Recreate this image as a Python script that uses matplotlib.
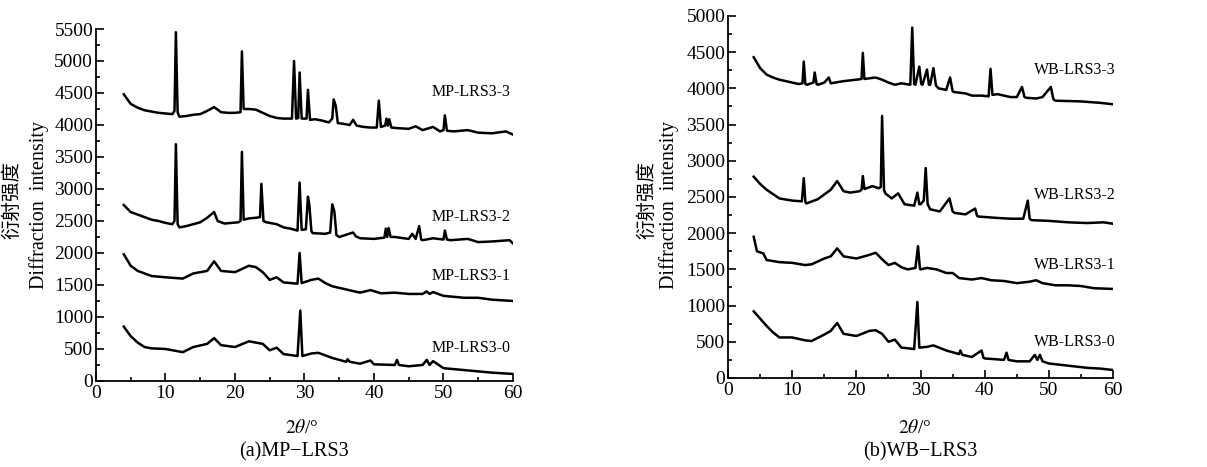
import numpy as np
import matplotlib
matplotlib.use("Agg")
import matplotlib.pyplot as plt
from matplotlib.ticker import MultipleLocator

plt.rcParams['font.family'] = ['Liberation Serif', 'Noto Sans CJK SC']
plt.rcParams['mathtext.fontset'] = 'stix'

# (2theta, intensity), panel (a)
mp3 = [(4, 4480), (5, 4330), (6, 4270), (7, 4230), (8, 4210), (9, 4190), (10, 4180), (11, 4170),
       (11.3, 4220), (11.5, 5450), (11.75, 4200), (12, 4130), (13, 4140), (14, 4160), (15, 4170),
       (16, 4220), (17, 4280), (18, 4200), (19, 4190), (20, 4190), (20.8, 4200), (21, 5150),
       (21.25, 4250), (22, 4250), (23, 4240), (24, 4190), (25, 4140), (26, 4110), (27, 4100),
       (28.2, 4100), (28.5, 5000), (28.8, 4100), (29.1, 4110), (29.3, 4820), (29.6, 4100),
       (30.3, 4100), (30.5, 4550), (30.8, 4080), (31.5, 4090), (32.5, 4070), (33.5, 4040),
       (34, 4100), (34.2, 4400), (34.5, 4300), (34.8, 4030), (35.5, 4020), (36.5, 4000),
       (37, 4080), (37.5, 3990), (38.5, 3970), (39.5, 3960), (40.4, 3960), (40.7, 4380),
       (41, 3970), (41.6, 3990), (41.8, 4100), (42, 3990), (42.2, 4090), (42.5, 3960),
       (43.5, 3950), (45, 3940), (46, 3980), (47, 3920), (48.5, 3970), (49.5, 3900),
       (50, 3920), (50.2, 4150), (50.5, 3910), (51.5, 3900), (53.5, 3920), (55, 3880),
       (57, 3870), (59, 3900), (60, 3850)]
mp2 = [(4, 2750), (5, 2640), (6, 2600), (7, 2560), (8, 2520), (9, 2500), (10, 2470), (11, 2450),
       (11.3, 2500), (11.5, 3700), (11.75, 2450), (12, 2400), (13, 2420), (14, 2450), (15, 2480),
       (16, 2550), (17, 2640), (17.5, 2500), (18.5, 2460), (20.5, 2480), (20.8, 2500), (21, 3580),
       (21.25, 2520), (22, 2540), (23, 2550), (23.6, 2560), (23.8, 3080), (24.1, 2500),
       (24.5, 2480), (26, 2450), (27, 2400), (28, 2380), (29, 2350), (29.3, 3100), (29.6, 2360),
       (30.2, 2370), (30.5, 2880), (30.7, 2750), (31, 2340), (31.2, 2310), (33, 2300),
       (33.7, 2320), (34, 2760), (34.3, 2650), (34.6, 2280), (35, 2250), (37, 2320),
       (37.4, 2260), (38, 2230), (40, 2220), (41.5, 2240), (41.7, 2380), (41.9, 2250),
       (42.1, 2390), (42.4, 2250), (43, 2250), (45, 2220), (45.5, 2300), (46, 2220),
       (46.5, 2420), (46.8, 2210), (47, 2200), (48.5, 2230), (50, 2210), (50.2, 2350),
       (50.5, 2210), (51, 2200), (53.5, 2220), (55, 2170), (57, 2180), (59.5, 2200), (60, 2150)]
mp1 = [(4, 1980), (5, 1800), (6, 1720), (7, 1680), (8, 1640), (10, 1620), (12.5, 1600),
       (14, 1680), (16, 1720), (17, 1870), (18, 1720), (20, 1700), (22, 1800), (23, 1780),
       (24, 1700), (25, 1580), (26, 1620), (27, 1540), (29, 1520), (29.3, 2000), (29.6, 1530),
       (31, 1580), (32, 1600), (33, 1530), (34, 1480), (36, 1430), (38, 1380), (39.5, 1420),
       (41, 1370), (43, 1380), (45, 1360), (47, 1360), (47.6, 1400), (48, 1360), (48.5, 1390),
       (50, 1330), (53, 1300), (55, 1300), (57, 1270), (60, 1250)]
mp0 = [(4, 850), (5, 700), (6, 600), (7, 530), (8, 510), (10, 500), (12.5, 450), (14, 530),
       (16, 580), (17, 670), (18, 560), (20, 530), (22, 620), (23, 600), (24, 580), (25, 480),
       (26, 520), (27, 420), (29, 390), (29.4, 1100), (29.7, 390), (31, 430), (32, 440),
       (34, 360), (36, 300), (36.2, 340), (36.5, 300), (38, 270), (39.5, 320), (40, 260),
       (43, 250), (43.3, 330), (43.6, 250), (45, 230), (47, 250), (47.6, 330), (48, 250),
       (48.5, 310), (50, 200), (53, 170), (55, 150), (57, 130), (60, 110)]

# panel (b)
wb3 = [(4, 4430), (5, 4280), (6, 4190), (7, 4150), (8, 4120), (9, 4100), (10, 4080), (11, 4060),
       (11.6, 4070), (11.8, 4370), (12.05, 4060), (12.3, 4050), (13.3, 4080), (13.5, 4220),
       (13.8, 4060), (14, 4050), (15, 4080), (15.7, 4150), (16, 4070), (18, 4100), (20, 4120),
       (20.8, 4130), (21, 4490), (21.25, 4130), (23, 4150), (24, 4120), (25, 4080), (26, 4050),
       (27, 4070), (28.4, 4050), (28.7, 4840), (29, 4060), (29.2, 4050), (29.8, 4300),
       (30.1, 4060), (30.3, 4050), (31, 4260), (31.3, 4050), (31.5, 4050), (32, 4280),
       (32.4, 4040), (32.8, 4000), (34, 3980), (34.6, 4150), (35, 3960), (35.2, 3950), (37, 3930),
       (38, 3900), (39.5, 3900), (40.6, 3890), (40.9, 4270), (41.2, 3910), (42, 3920), (44, 3880),
       (45, 3880), (45.8, 4020), (46.2, 3880), (46.5, 3870), (48, 3860), (49, 3880),
       (50.3, 4020), (50.7, 3850), (51, 3830), (55, 3820), (58, 3800), (60, 3780)]
wb2 = [(4, 2780), (5, 2680), (6, 2600), (7, 2540), (8, 2480), (10, 2450), (11.5, 2440),
       (11.8, 2760), (12.05, 2430), (12.2, 2410), (14, 2470), (16, 2600), (17, 2720), (18, 2580),
       (19, 2560), (20.5, 2580), (20.8, 2600), (21, 2790), (21.25, 2610), (22.5, 2650),
       (23.5, 2620), (23.8, 2640), (24, 3620), (24.3, 2600), (24.5, 2550), (25.5, 2480),
       (26.5, 2550), (27.5, 2400), (29, 2380), (29.5, 2560), (29.8, 2400), (30, 2400),
       (30.5, 2450), (30.8, 2900), (31.1, 2400), (31.5, 2330), (33, 2300), (34.5, 2480),
       (35, 2300), (35.3, 2280), (37, 2260), (38.5, 2340), (38.8, 2240), (39, 2230), (42, 2210),
       (44, 2200), (46, 2200), (46.7, 2450), (47, 2200), (47.3, 2180), (50, 2170), (53, 2150),
       (56, 2140), (58.5, 2150), (60, 2130)]
wb1 = [(4, 1950), (4.5, 1750), (5.5, 1720), (6, 1630), (8, 1600), (10, 1590), (12, 1560),
       (13, 1570), (15, 1650), (16, 1680), (17, 1790), (18, 1680), (20, 1650), (22, 1700),
       (23, 1730), (24, 1640), (25, 1560), (26, 1590), (27, 1530), (28, 1500), (29.2, 1520),
       (29.6, 1820), (29.9, 1510), (30, 1500), (31, 1520), (32.5, 1500), (34, 1450),
       (35, 1450), (36, 1380), (38, 1360), (39.5, 1380), (41, 1350), (43, 1340), (45, 1310),
       (47, 1330), (48, 1350), (49, 1310), (51, 1280), (53, 1280), (55, 1270), (57, 1240),
       (60, 1230)]
wb0 = [(4, 920), (5, 820), (6, 720), (7, 630), (8, 560), (10, 560), (12, 520), (13, 510),
       (15, 600), (16, 650), (17, 760), (18, 610), (20, 580), (22, 650), (23, 660), (24, 610),
       (25, 500), (26, 530), (27, 420), (29, 400), (29.5, 1050), (29.8, 420), (29.9, 420),
       (31, 430), (32, 450), (34, 380), (36, 330), (36.2, 380), (36.5, 320), (38, 290),
       (39.5, 380), (39.8, 280), (40, 270), (43, 250), (43.4, 350), (43.7, 250), (45, 230),
       (47, 230), (47.8, 320), (48.2, 250), (48.6, 320), (49, 230), (50, 200), (53, 170),
       (56, 140), (58, 130), (60, 110)]

mp_names = ["MP-LRS3-3", "MP-LRS3-2", "MP-LRS3-1", "MP-LRS3-0"]
mp_label_y = [4520, 2560, 1640, 520]
wb_names = ["WB-LRS3-3", "WB-LRS3-2", "WB-LRS3-1", "WB-LRS3-0"]
wb_label_y = [4250, 2530, 1560, 500]

fig = plt.figure(figsize=(12.07, 4.67), dpi=100)
ax1 = fig.add_axes([0.0795, 0.1842, 0.3455, 0.7537])
ax2 = fig.add_axes([0.6032, 0.1906, 0.3190, 0.7752])


def draw_panel(ax, series, names, label_y, ymax):
    for s in series:
        x, y = zip(*s)
        ax.plot(x, y, color='black', lw=1.8)
    for name, ly in zip(names, label_y):
        ax.text(54, ly, name, ha='center', va='center', fontsize=11.5)
    ax.set_xlim(0, 60)
    ax.set_ylim(0, ymax)
    ax.spines['top'].set_visible(False)
    ax.spines['right'].set_visible(False)
    ax.spines['left'].set_linewidth(1.3)
    ax.spines['bottom'].set_linewidth(1.3)
    ax.xaxis.set_major_locator(MultipleLocator(10))
    ax.xaxis.set_minor_locator(MultipleLocator(5))
    ax.yaxis.set_major_locator(MultipleLocator(500))
    ax.yaxis.set_minor_locator(MultipleLocator(250))
    ax.tick_params(which='both', direction='in', width=1.2, labelsize=14)
    ax.tick_params(which='major', length=6)
    ax.tick_params(which='minor', length=3)
    ax.tick_params(axis='y', pad=2)
    ax.tick_params(axis='x', pad=3)


draw_panel(ax1, [mp3, mp2, mp1, mp0], mp_names, mp_label_y, 5500)
draw_panel(ax2, [wb3, wb2, wb1, wb0], wb_names, wb_label_y, 5000)

H = 467.0
W = 1207.0
# y labels
fig.text(12 / W, 1 - 200 / H, "衍射强度", rotation=90, ha='center', va='center', fontsize=14)
fig.text(39 / W, 1 - 205 / H, "Diffraction  intensity", rotation=90, ha='center', va='center', fontsize=14.5)
fig.text(647 / W, 1 - 200 / H, "衍射强度", rotation=90, ha='center', va='center', fontsize=14)
fig.text(669 / W, 1 - 205 / H, "Diffraction  intensity", rotation=90, ha='center', va='center', fontsize=14.5)
# x labels and captions
fig.text(302 / W, 1 - 428 / H, r"$2\theta$/°", ha='center', va='center', fontsize=14)
fig.text(915 / W, 1 - 428 / H, r"$2\theta$/°", ha='center', va='center', fontsize=14)
fig.text(294 / W, 1 - 452 / H, "(a)MP\u2212LRS3", ha='center', va='center', fontsize=14.5)
fig.text(920 / W, 1 - 452 / H, "(b)WB\u2212LRS3", ha='center', va='center', fontsize=14.5)

fig.savefig("out.png", dpi=100)
